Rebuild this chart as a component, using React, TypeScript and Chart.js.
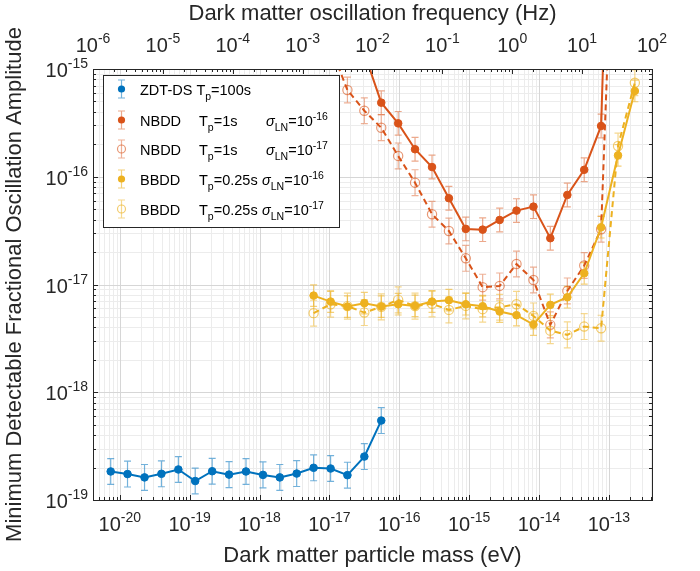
import React, { useEffect, useRef } from "react";
import { Chart, registerables } from "chart.js";
Chart.register(...registerables);

// eV per Hz (Planck constant)
const H_EV_S = 4.135667e-15;

// x positions (dark matter particle mass, eV), index 0..31
const massEV = [
  7.41e-21, 1.29e-20, 2.26e-20, 3.94e-20, 6.89e-20, 1.2e-19, 2.1e-19, 3.66e-19,
  6.4e-19, 1.12e-18, 1.95e-18, 3.4e-18, 5.94e-18, 1.04e-17, 1.81e-17, 3.16e-17,
  5.52e-17, 9.64e-17, 1.68e-16, 2.94e-16, 5.13e-16, 8.95e-16, 1.56e-15, 2.73e-15,
  4.76e-15, 8.32e-15, 1.45e-14, 2.54e-14, 4.43e-14, 7.73e-14, 1.35e-13, 2.35e-13,
];

// ZDT-DS Tp=100s  (mass index 0..16)
const zdtStart = 0;
const zdtValues = [
  1.84e-19, 1.74e-19, 1.62e-19, 1.75e-19, 1.92e-19, 1.5e-19, 1.85e-19, 1.72e-19,
  1.84e-19, 1.71e-19, 1.62e-19, 1.76e-19, 1.99e-19, 1.96e-19, 1.7e-19, 2.53e-19, 5.46e-19,
];
// NBDD Tp=1s sigma=1e-16 (mass index 15..30)
const nbdd16Start = 15;
const nbdd16Values = [
  1.4e-15, 4.87e-16, 3.13e-16, 1.8e-16, 1.23e-16, 6.32e-17, 3.28e-17, 3.23e-17,
  3.97e-17, 4.85e-17, 5.28e-17, 2.69e-17, 6.78e-17, 1.16e-16, 2.96e-16, 3e-11,
];
// NBDD Tp=1s sigma=1e-17 (mass index 13..30)
const nbdd17Start = 13;
const nbdd17Values = [
  1.6e-15, 6.38e-16, 4.1e-16, 2.85e-16, 1.56e-16, 8.81e-17, 4.49e-17, 3.14e-17,
  1.75e-17, 9.44e-18, 9.7e-18, 1.55e-17, 1.1e-17, 4.22e-18, 8.72e-18, 1.5e-17,
  3.26e-17, 5e-13,
];
// BBDD Tp=0.25s sigma=1e-16 (mass index 12..31)
const bbdd16Start = 12;
const bbdd16Values = [
  7.89e-18, 6.94e-18, 6.24e-18, 6.71e-18, 6.24e-18, 6.56e-18, 6.33e-18, 6.94e-18,
  7.15e-18, 6.56e-18, 6.29e-18, 5.61e-18, 5.19e-18, 4.25e-18, 6.47e-18, 7.62e-18,
  1.27e-17, 3.4e-17, 1.58e-16, 6.25e-16,
];
// BBDD Tp=0.25s sigma=1e-17 (mass index 12..31)
const bbdd17Start = 12;
const bbdd17Values = [
  5.42e-18, 6.56e-18, 6.3e-18, 5.49e-18, 6.2e-18, 7.2e-18, 6.3e-18, 6.61e-18,
  5.81e-18, 6.33e-18, 5.9e-18, 6.15e-18, 6.56e-18, 5.11e-18, 3.73e-18, 3.41e-18,
  4.07e-18, 3.93e-18, 1.93e-16, 7.46e-16,
];
// half-length of error bars, in decades
const errDecades = [0.12, 0.11, 0.12, 0.1, 0.12];

// axis tick exponents
const massTickExp = [-20, -19, -18, -17, -16, -15, -14, -13];
const freqTickExp = [-6, -5, -4, -3, -2, -1, 0, 1, 2];
const ampTickExp = [-19, -18, -17, -16, -15];

const FONT = "'Liberation Sans', Arial, Helvetica, sans-serif";
const AX = "#262626";

const BLUE = "#0072BD";
const ORANGE = "#D95319";
const YELLOW = "#EDB120";

type Seg = { t: string; size: number; dy: number; italic?: boolean };

function segWidth(ctx: CanvasRenderingContext2D, segs: Seg[]) {
  let w = 0;
  for (const s of segs) {
    ctx.font = `${s.italic ? "italic " : ""}${s.size}px ${FONT}`;
    w += ctx.measureText(s.t).width;
  }
  return w;
}
function drawSegs(ctx: CanvasRenderingContext2D, segs: Seg[], x: number, y: number) {
  let cx = x;
  ctx.textAlign = "left";
  ctx.textBaseline = "alphabetic";
  for (const s of segs) {
    ctx.font = `${s.italic ? "italic " : ""}${s.size}px ${FONT}`;
    ctx.fillText(s.t, cx, y + s.dy);
    cx += ctx.measureText(s.t).width;
  }
  return cx;
}
function pow10(n: number): Seg[] {
  return [
    { t: "10", size: 20, dy: 0 },
    { t: String(n), size: 14, dy: -9 },
  ];
}

function mk(start: number, vals: number[]) {
  return vals.map((v, i) => ({ x: massEV[start + i], y: v }));
}

const axesPlugin = {
  id: "matlabAxes",
  beforeDatasetsDraw(chart: any) {
    const { ctx, chartArea: a, scales } = chart;
    const xs = scales.x;
    const ys = scales.y;
    ctx.save();
    ctx.beginPath();
    ctx.rect(a.left, a.top, a.right - a.left, a.bottom - a.top);
    ctx.clip();
    // minor grid
    ctx.lineWidth = 1;
    ctx.strokeStyle = "#ececec";
    ctx.beginPath();
    for (let n = -21; n <= -13; n++) {
      for (let k = 2; k <= 9; k++) {
        const v = k * Math.pow(10, n);
        if (v < xs.min || v > xs.max) continue;
        const px = Math.round(xs.getPixelForValue(v)) + 0.5;
        ctx.moveTo(px, a.top);
        ctx.lineTo(px, a.bottom);
      }
    }
    for (let n = -19; n <= -16; n++) {
      for (let k = 2; k <= 9; k++) {
        const py = Math.round(ys.getPixelForValue(k * Math.pow(10, n))) + 0.5;
        ctx.moveTo(a.left, py);
        ctx.lineTo(a.right, py);
      }
    }
    ctx.stroke();
    // major grid
    ctx.strokeStyle = "#d6d6d6";
    ctx.beginPath();
    for (const n of massTickExp) {
      const px = Math.round(xs.getPixelForValue(Math.pow(10, n))) + 0.5;
      ctx.moveTo(px, a.top);
      ctx.lineTo(px, a.bottom);
    }
    for (const n of ampTickExp) {
      const py = Math.round(ys.getPixelForValue(Math.pow(10, n))) + 0.5;
      ctx.moveTo(a.left, py);
      ctx.lineTo(a.right, py);
    }
    ctx.stroke();
    // error bars
    chart.data.datasets.forEach((ds: any) => {
      const e = ds.errDec;
      ctx.strokeStyle = ds.errColor;
      ctx.lineWidth = 1.2;
      ctx.beginPath();
      for (const p of ds.data) {
        const x = xs.getPixelForValue(p.x);
        const y1 = ys.getPixelForValue(p.y * Math.pow(10, -e));
        const y2 = ys.getPixelForValue(p.y * Math.pow(10, e));
        ctx.moveTo(x, y1);
        ctx.lineTo(x, y2);
        ctx.moveTo(x - 3.5, y1);
        ctx.lineTo(x + 3.5, y1);
        ctx.moveTo(x - 3.5, y2);
        ctx.lineTo(x + 3.5, y2);
      }
      ctx.stroke();
    });
    ctx.restore();
  },
  afterDraw(chart: any) {
    const { ctx, chartArea: a, scales } = chart;
    const xs = scales.x;
    const ys = scales.y;
    ctx.save();
    // frame
    ctx.strokeStyle = AX;
    ctx.lineWidth = 1;
    ctx.strokeRect(Math.round(a.left) + 0.5, Math.round(a.top) + 0.5, Math.round(a.right - a.left), Math.round(a.bottom - a.top));
    // ticks
    ctx.beginPath();
    const bottomTick = (v: number, len: number) => {
      const px = Math.round(xs.getPixelForValue(v)) + 0.5;
      ctx.moveTo(px, a.bottom);
      ctx.lineTo(px, a.bottom - len);
    };
    const topTick = (f: number, len: number) => {
      const px = Math.round(xs.getPixelForValue(f * H_EV_S)) + 0.5;
      ctx.moveTo(px, a.top);
      ctx.lineTo(px, a.top + len);
    };
    const sideTick = (v: number, len: number) => {
      const py = Math.round(ys.getPixelForValue(v)) + 0.5;
      ctx.moveTo(a.left, py);
      ctx.lineTo(a.left + len, py);
      ctx.moveTo(a.right, py);
      ctx.lineTo(a.right - len, py);
    };
    for (let n = -21; n <= -13; n++) {
      for (let k = 1; k <= 9; k++) {
        const v = k * Math.pow(10, n);
        if (v < xs.min || v > xs.max) continue;
        bottomTick(v, k === 1 ? 5 : 3);
      }
    }
    for (let n = -6; n <= 2; n++) {
      for (let k = 1; k <= 9; k++) {
        const f = k * Math.pow(10, n);
        if (f > 100.0001) continue;
        topTick(f, k === 1 ? 5 : 3);
      }
    }
    for (let n = -19; n <= -15; n++) {
      for (let k = 1; k <= 9; k++) {
        const v = k * Math.pow(10, n);
        if (v > 1.0001e-15) continue;
        sideTick(v, k === 1 ? 5 : 3);
      }
    }
    ctx.stroke();

    // tick labels
    ctx.fillStyle = AX;
    for (const n of massTickExp) {
      const segs = pow10(n);
      const w = segWidth(ctx, segs);
      const px = xs.getPixelForValue(Math.pow(10, n));
      drawSegs(ctx, segs, px - w / 2, a.bottom + 31);
    }
    for (const n of freqTickExp) {
      const segs = pow10(n);
      const w = segWidth(ctx, segs);
      const px = xs.getPixelForValue(Math.pow(10, n) * H_EV_S);
      drawSegs(ctx, segs, px - w / 2, a.top - 17);
    }
    for (const n of ampTickExp) {
      const segs = pow10(n);
      const w = segWidth(ctx, segs);
      const py = ys.getPixelForValue(Math.pow(10, n));
      drawSegs(ctx, segs, a.left - 5 - w, py + 8);
    }

    // axis titles
    ctx.font = `22px ${FONT}`;
    ctx.textAlign = "center";
    ctx.textBaseline = "alphabetic";
    const cx = (a.left + a.right) / 2;
    ctx.fillText("Dark matter particle mass (eV)", cx, 562);
    ctx.fillText("Dark matter oscillation frequency (Hz)", cx, 20);
    ctx.save();
    ctx.translate(21, (a.top + a.bottom) / 2);
    ctx.rotate(-Math.PI / 2);
    ctx.fillText("Minimum Detectable Fractional Oscillation Amplitude", 0, 0);
    ctx.restore();

    // legend
    const L = { x: 103.5, y: 75.5, w: 236, h: 152 };
    ctx.fillStyle = "#ffffff";
    ctx.fillRect(L.x, L.y, L.w, L.h);
    ctx.strokeStyle = AX;
    ctx.lineWidth = 1;
    ctx.strokeRect(L.x, L.y, L.w, L.h);
    const rows = [89, 120, 149, 179, 209];
    const dsets = chart.data.datasets;
    rows.forEach((ry, i) => {
      const ds = dsets[i];
      const mx = 121.5;
      ctx.strokeStyle = ds.errColor;
      ctx.lineWidth = 1.2;
      ctx.beginPath();
      ctx.moveTo(mx, ry - 9);
      ctx.lineTo(mx, ry + 9);
      ctx.moveTo(mx - 3.5, ry - 9);
      ctx.lineTo(mx + 3.5, ry - 9);
      ctx.moveTo(mx - 3.5, ry + 9);
      ctx.lineTo(mx + 3.5, ry + 9);
      ctx.stroke();
      ctx.beginPath();
      if (ds.openMarker) {
        ctx.arc(mx, ry, 4, 0, Math.PI * 2);
        ctx.strokeStyle = ds.pointBorderColor;
        ctx.lineWidth = 1.2;
        ctx.stroke();
      } else {
        ctx.arc(mx, ry, 3.6, 0, Math.PI * 2);
        ctx.fillStyle = ds.borderColor;
        ctx.fill();
      }
    });
    ctx.fillStyle = "#000000";
    const base = 14.5;
    const sub = 10.5;
    const bl = (r: number) => rows[r] + 5.5;
    drawSegs(ctx, [
      { t: "ZDT-DS T", size: base, dy: 0 },
      { t: "p", size: sub, dy: 5 },
      { t: "=100s", size: base, dy: 0 },
    ], 140, bl(0));
    const sigma = (exp: string): Seg[] => [
      { t: "\u03C3", size: base, dy: 0, italic: true },
      { t: "LN", size: sub, dy: 5 },
      { t: "=10", size: base, dy: 0 },
      { t: exp, size: sub, dy: -6 },
    ];
    const tp = (v: string): Seg[] => [
      { t: "T", size: base, dy: 0 },
      { t: "p", size: sub, dy: 5 },
      { t: v, size: base, dy: 0 },
    ];
    drawSegs(ctx, [{ t: "NBDD", size: base, dy: 0 }], 140, bl(1));
    drawSegs(ctx, tp("=1s"), 199, bl(1));
    drawSegs(ctx, sigma("-16"), 266, bl(1));
    drawSegs(ctx, [{ t: "NBDD", size: base, dy: 0 }], 140, bl(2));
    drawSegs(ctx, tp("=1s"), 199, bl(2));
    drawSegs(ctx, sigma("-17"), 266, bl(2));
    drawSegs(ctx, [{ t: "BBDD", size: base, dy: 0 }], 140, bl(3));
    drawSegs(ctx, tp("=0.25s"), 199, bl(3));
    drawSegs(ctx, sigma("-16"), 262, bl(3));
    drawSegs(ctx, [{ t: "BBDD", size: base, dy: 0 }], 140, bl(4));
    drawSegs(ctx, tp("=0.25s"), 199, bl(4));
    drawSegs(ctx, sigma("-17"), 262, bl(4));
    ctx.restore();
  },
};

export default function App() {
  const ref = useRef<HTMLCanvasElement | null>(null);
  useEffect(() => {
    if (!ref.current) return;
    const filled = (color: string) => ({
      borderColor: color,
      pointBackgroundColor: color,
      pointBorderColor: color,
      pointRadius: 3.8,
      pointBorderWidth: 1,
      borderWidth: 2,
      openMarker: false,
    });
    const open = (color: string, marker: string) => ({
      borderColor: color,
      pointBackgroundColor: "rgba(255,255,255,0)",
      pointBorderColor: marker,
      pointRadius: 4.6,
      pointBorderWidth: 1.2,
      borderWidth: 2,
      borderDash: [6, 4],
      openMarker: true,
    });
    const chart = new Chart(ref.current, {
      type: "line",
      data: {
        datasets: [
          { label: "ZDT-DS", data: mk(zdtStart, zdtValues), ...filled(BLUE), errDec: errDecades[0], errColor: "rgba(0,114,189,0.55)", order: 5 },
          { label: "NBDD 1e-16", data: mk(nbdd16Start, nbdd16Values), ...filled(ORANGE), errDec: errDecades[1], errColor: "rgba(217,83,25,0.5)", order: 4 },
          { label: "NBDD 1e-17", data: mk(nbdd17Start, nbdd17Values), ...open(ORANGE, "rgba(217,83,25,0.6)"), errDec: errDecades[2], errColor: "rgba(217,83,25,0.45)", order: 3 },
          { label: "BBDD 1e-16", data: mk(bbdd16Start, bbdd16Values), ...filled(YELLOW), errDec: errDecades[3], errColor: "rgba(237,177,32,0.6)", order: 2 },
          { label: "BBDD 1e-17", data: mk(bbdd17Start, bbdd17Values), ...open(YELLOW, "rgba(237,177,32,0.65)"), errDec: errDecades[4], errColor: "rgba(237,177,32,0.5)", order: 1 },
        ] as any,
      },
      options: {
        responsive: false,
        animation: false,
        devicePixelRatio: 1,
        layout: { padding: { left: 93, right: 48, top: 69, bottom: 71 } },
        plugins: { legend: { display: false }, tooltip: { enabled: false } },
        elements: { line: { tension: 0 } },
        scales: {
          x: { type: "logarithmic", display: false, min: 1e-6 * H_EV_S, max: 1e2 * H_EV_S },
          y: { type: "logarithmic", display: false, min: 1e-19, max: 1e-15 },
        },
      },
      plugins: [axesPlugin],
    } as any);
    return () => chart.destroy();
  }, []);
  return (
    <div style={{ position: "fixed", left: 0, top: 0, width: 700, height: 571, background: "#fff" }}>
      <canvas ref={ref} width={700} height={571} style={{ display: "block" }} />
    </div>
  );
}
